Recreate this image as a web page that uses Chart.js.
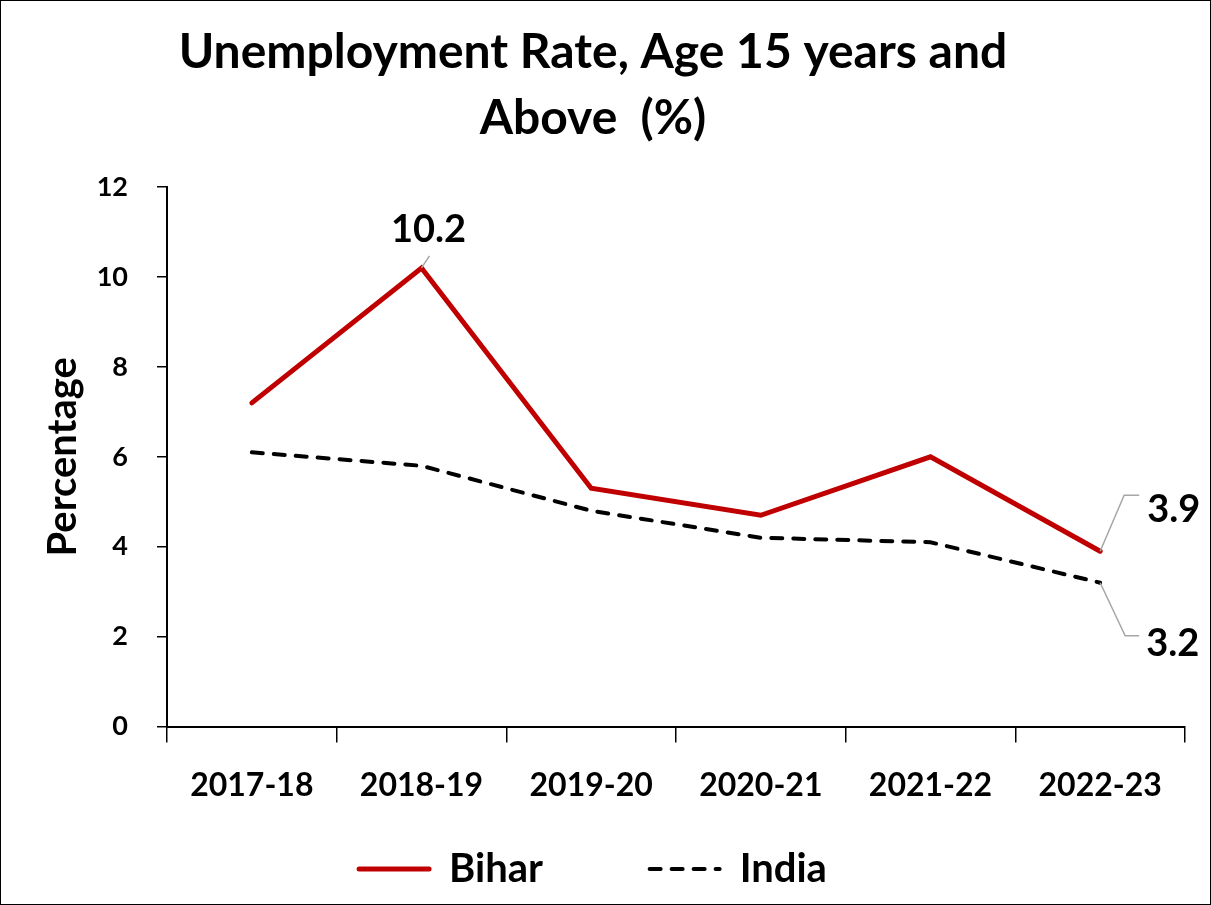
<!DOCTYPE html>
<html>
<head>
<meta charset="utf-8">
<script src="https://cdn.jsdelivr.net/npm/chart.js@4.4.1/dist/chart.umd.min.js"></script>
<style>
    html, body { margin: 0; padding: 0; background: #fff; }
    #wrap { width: 1209px; height: 903px; border: 1px solid #000; }
</style>
</head>
<body>
<div id="wrap"><canvas id="unempChart" width="1209" height="903"></canvas></div>
<script>
const categories = ['2017-18', '2018-19', '2019-20', '2020-21', '2021-22', '2022-23'];
const biharValues = [7.2, 10.2, 5.3, 4.7, 6.0, 3.9];
const indiaValues = [6.1, 5.8, 4.8, 4.2, 4.1, 3.2];
const yMin = 0, yMax = 12, yStep = 2;
const titleLines = ['Unemployment Rate, Age 15 years and', 'Above  (%)'];

// which points get a value label, and where it sits relative to the point
const pointLabels = [
    { ds: 0, idx: 1, dx: 7, dy: -38, align: 'center', leader: [[0, 0], [8, -12]] },
    { ds: 0, idx: 5, dx: 47, dy: -41, align: 'left', leader: [[0, 0], [24, -56], [39, -56]] },
    { ds: 1, idx: 5, dx: 46, dy: 61, align: 'left', leader: [[0, 0], [25, 53], [39, 53]] }
];

const FONT = 'Lato, "Open Sans", sans-serif';

const labelPlugin = {
    id: 'pointLabels',
    afterDatasetsDraw(chart) {
        const ctx = chart.ctx;
        const x = chart.scales.x, y = chart.scales.y;
        ctx.save();
        pointLabels.forEach(p => {
            const v = chart.data.datasets[p.ds].data[p.idx];
            const px = x.getPixelForValue(p.idx);
            const py = y.getPixelForValue(v);
            ctx.strokeStyle = '#a6a6a6';
            ctx.lineWidth = 1.5;
            ctx.setLineDash([]);
            ctx.beginPath();
            p.leader.forEach((pt, i) => {
                if (i === 0) ctx.moveTo(px + pt[0], py + pt[1]);
                else ctx.lineTo(px + pt[0], py + pt[1]);
            });
            ctx.stroke();
            ctx.fillStyle = '#000';
            ctx.font = 'bold 38px ' + FONT;
            ctx.textAlign = p.align;
            ctx.textBaseline = 'middle';
            ctx.fillText(v.toFixed(1), px + p.dx, py + p.dy);
        });
        ctx.restore();
    }
};

const ctx = document.getElementById('unempChart').getContext('2d');
const chart = new Chart(ctx, {
    type: 'line',
    data: {
        labels: categories,
        datasets: [{
            label: 'Bihar',
            data: biharValues,
            borderColor: '#c00000',
            backgroundColor: '#c00000',
            borderWidth: 5,
            pointRadius: 0,
            pointStyle: 'line',
            tension: 0,
            borderCapStyle: 'round',
            borderJoinStyle: 'miter'
        }, {
            label: 'India',
            data: indiaValues,
            borderColor: '#000000',
            backgroundColor: '#000000',
            borderWidth: 4,
            borderDash: [11, 11],
            borderCapStyle: 'round',
            pointRadius: 0,
            pointStyle: 'line',
            tension: 0
        }]
    },
    options: {
        responsive: false,
        animation: false,
        layout: {
            padding: { left: 0, right: 25, top: 0, bottom: 5 }
        },
        scales: {
            x: {
                offset: true,
                grid: {
                    offset: true,
                    drawOnChartArea: false,
                    drawTicks: true,
                    tickLength: 16,
                    color: '#000',
                    lineWidth: 1.5
                },
                border: { display: true, color: '#000', width: 2 },
                ticks: {
                    color: '#000',
                    padding: 24,
                    maxRotation: 0,
                    font: { family: FONT, size: 32, weight: 'bold' }
                }
            },
            y: {
                min: yMin,
                max: yMax,
                afterFit: scale => { scale.width = 166; },
                grid: {
                    drawOnChartArea: false,
                    drawTicks: true,
                    tickLength: 10,
                    color: '#000',
                    lineWidth: 1.5
                },
                border: { display: true, color: '#000', width: 2 },
                ticks: {
                    stepSize: yStep,
                    color: '#000',
                    padding: 29,
                    font: { family: FONT, size: 27, weight: 'bold' }
                },
                title: {
                    display: true,
                    text: 'Percentage',
                    color: '#000',
                    padding: { top: 38, bottom: 0 },
                    font: { family: FONT, size: 40, weight: 'bold' }
                }
            }
        },
        plugins: {
            title: {
                display: true,
                text: titleLines,
                color: '#000',
                padding: { top: 19, bottom: 35 },
                font: { family: FONT, size: 48, weight: 'bold', lineHeight: 1.375 }
            },
            legend: {
                display: true,
                position: 'bottom',
                labels: {
                    usePointStyle: true,
                    pointStyleWidth: 70,
                    padding: 20,
                    color: '#000',
                    font: { family: FONT, size: 40, weight: 'bold' },
                    generateLabels: chart => {
                        const items = Chart.defaults.plugins.legend.labels.generateLabels(chart);
                        items.forEach((item, i) => {
                            const ds = chart.data.datasets[i];
                            item.lineWidth = ds.borderWidth;
                            item.lineDash = ds.borderDash || [];
                            item.lineCap = 'round';
                            item.strokeStyle = ds.borderColor;
                        });
                        // wider gap after the first entry, as in the original
                        items[0].text = items[0].text + '\u00A0'.repeat(9);
                        return items;
                    }
                }
            },
            tooltip: { enabled: false }
        }
    },
    plugins: [labelPlugin]
});
</script>
</body>
</html>
